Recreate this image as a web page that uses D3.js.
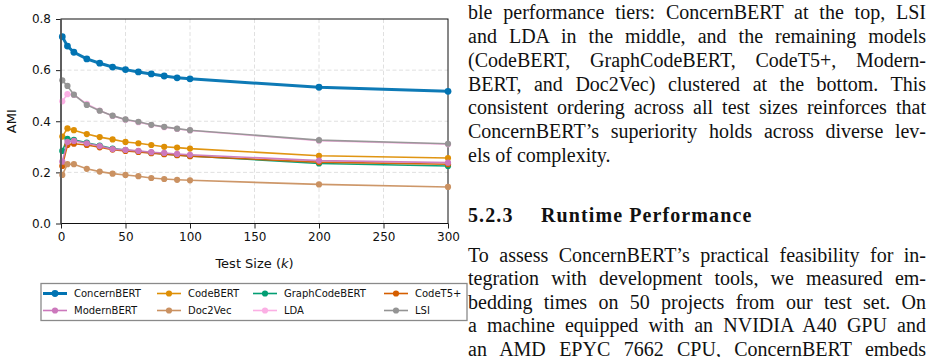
<!DOCTYPE html>
<html>
<head>
<meta charset="utf-8">
<script src="https://cdn.jsdelivr.net/npm/d3@7"></script>
<style>
  body { margin: 0; background: #fff; }
  #page { position: relative; width: 932px; height: 357px; overflow: hidden; }
  .line { position: absolute; left: 468px; width: 458px; font-family: "Liberation Serif", "DejaVu Serif", serif;
          color: #111; text-align: justify; text-align-last: justify; }
  .line.last { text-align-last: left; }
</style>
</head>
<body>
<div id="page"></div>
<script>
// Test sizes (k)
const testSizes = [1, 5, 10, 20, 30, 40, 50, 60, 70, 80, 90, 100, 200, 300];

// AMI per model
const concernBert   = [0.731, 0.694, 0.670, 0.644, 0.627, 0.612, 0.602, 0.593, 0.585, 0.577, 0.570, 0.566, 0.533, 0.517];
const codeBert      = [0.340, 0.372, 0.365, 0.350, 0.338, 0.329, 0.319, 0.314, 0.307, 0.300, 0.297, 0.293, 0.265, 0.256];
const graphCodeBert = [0.284, 0.331, 0.327, 0.316, 0.305, 0.293, 0.287, 0.282, 0.277, 0.272, 0.268, 0.264, 0.235, 0.225];
const codeT5        = [0.225, 0.307, 0.312, 0.307, 0.298, 0.289, 0.284, 0.280, 0.275, 0.271, 0.267, 0.263, 0.240, 0.232];
const modernBert    = [0.242, 0.319, 0.323, 0.314, 0.303, 0.291, 0.288, 0.284, 0.279, 0.276, 0.272, 0.269, 0.246, 0.238];
const doc2Vec       = [0.190, 0.232, 0.232, 0.214, 0.203, 0.195, 0.190, 0.185, 0.178, 0.174, 0.171, 0.169, 0.153, 0.143];
const lda           = [0.478, 0.506, 0.503, 0.468, 0.442, 0.421, 0.406, 0.396, 0.385, 0.377, 0.370, 0.364, 0.324, 0.310];
const lsi           = [0.560, 0.538, 0.504, 0.464, 0.441, 0.422, 0.407, 0.398, 0.386, 0.378, 0.371, 0.365, 0.326, 0.312];

const modelNames = ["ConcernBERT", "CodeBERT", "GraphCodeBERT", "CodeT5+", "ModernBERT", "Doc2Vec", "LDA", "LSI"];
const modelValues = [concernBert, codeBert, graphCodeBert, codeT5, modernBert, doc2Vec, lda, lsi];
const modelColors = ["#0173b2", "#de8f05", "#029e73", "#d55e00", "#cc78bc", "#ca9161", "#fbafe4", "#949494"];

const xTicks = [0, 50, 100, 150, 200, 250, 300];
const yTicks = [0.0, 0.2, 0.4, 0.6, 0.8];

// Paper text next to the figure
const paraOne = [
    "ble performance tiers: ConcernBERT at the top, LSI",
    "and LDA in the middle, and the remaining models",
    "(CodeBERT, GraphCodeBERT, CodeT5+, Modern-",
    "BERT, and Doc2Vec) clustered at the bottom. This",
    "consistent ordering across all test sizes reinforces that",
    "ConcernBERT\u2019s superiority holds across diverse lev-",
    "els of complexity."
];
const paraTwo = [
    "To assess ConcernBERT\u2019s practical feasibility for in-",
    "tegration with development tools, we measured em-",
    "bedding times on 50 projects from our test set. On",
    "a machine equipped with an NVIDIA A40 GPU and",
    "an AMD EPYC 7662 CPU, ConcernBERT embeds"
];

const page = d3.select("#page");

const svg = page.append("svg")
    .attr("width", 932)
    .attr("height", 357)
    .style("position", "absolute")
    .style("left", 0)
    .style("top", 0);

const plot = { left: 61, right: 448, top: 19, bottom: 223.5 };

const x = d3.scaleLinear().domain([0, 300]).range([plot.left, plot.right]);
const y = d3.scaleLinear().domain([0, 0.8]).range([plot.bottom, plot.top]);

// Grid
svg.append("g")
    .selectAll("line")
    .data(xTicks.slice(1, -1))
    .join("line")
    .attr("x1", d => x(d)).attr("x2", d => x(d))
    .attr("y1", plot.top).attr("y2", plot.bottom)
    .attr("stroke", "#dcdcdc").attr("stroke-width", 0.9)
    .attr("stroke-dasharray", "4,2.5");

svg.append("g")
    .selectAll("line")
    .data(yTicks.slice(1, -1))
    .join("line")
    .attr("x1", plot.left).attr("x2", plot.right)
    .attr("y1", d => y(d)).attr("y2", d => y(d))
    .attr("stroke", "#dcdcdc").attr("stroke-width", 0.9)
    .attr("stroke-dasharray", "4,2.5");

// Axes
const xAxis = svg.append("g")
    .attr("transform", `translate(0,${plot.bottom})`)
    .call(d3.axisBottom(x).tickValues(xTicks).tickFormat(d3.format("d")).tickSize(5).tickPadding(4));

const yAxis = svg.append("g")
    .attr("transform", `translate(${plot.left},0)`)
    .call(d3.axisLeft(y).tickValues(yTicks).tickFormat(d3.format(".1f")).tickSize(5).tickPadding(5));

[xAxis, yAxis].forEach(ax => {
    ax.select(".domain").remove();
    ax.selectAll("line").attr("stroke", "#222").attr("stroke-width", 1);
    ax.selectAll("text")
        .style("font-family", "DejaVu Sans, sans-serif")
        .style("font-size", "12px")
        .attr("fill", "#111");
});

// Frame
svg.append("rect")
    .attr("x", plot.left).attr("y", plot.top)
    .attr("width", plot.right - plot.left)
    .attr("height", plot.bottom - plot.top)
    .attr("fill", "none")
    .attr("stroke", "#111")
    .attr("stroke-width", 1);

// Lines
const line = d3.line()
    .x((d, i) => x(testSizes[i]))
    .y(d => y(d));

modelValues.forEach((vals, k) => {
    const g = svg.append("g");
    const main = k === 0;
    g.append("path")
        .attr("d", line(vals))
        .attr("fill", "none")
        .attr("stroke", modelColors[k])
        .attr("stroke-width", main ? 3 : 1.6)
        .attr("opacity", 0.95);
    g.selectAll("circle")
        .data(vals)
        .join("circle")
        .attr("cx", (d, i) => x(testSizes[i]))
        .attr("cy", d => y(d))
        .attr("r", main ? 3.4 : 3.1)
        .attr("fill", modelColors[k]);
});

// Left spine drawn over the markers, as in the original
svg.append("line")
    .attr("x1", plot.left).attr("x2", plot.left)
    .attr("y1", plot.top).attr("y2", plot.bottom)
    .attr("stroke", "#555").attr("stroke-width", 1.6);

// Axis labels
svg.append("text")
    .attr("transform", `translate(16,${(plot.top + plot.bottom) / 2}) rotate(-90)`)
    .attr("text-anchor", "middle")
    .style("font-family", "DejaVu Sans, sans-serif")
    .style("font-size", "13px")
    .attr("fill", "#111")
    .text("AMI");

const xLabel = svg.append("text")
    .attr("x", (plot.left + plot.right) / 2)
    .attr("y", 268)
    .attr("text-anchor", "middle")
    .style("font-family", "DejaVu Sans, sans-serif")
    .style("font-size", "13px")
    .attr("fill", "#111");
xLabel.append("tspan").text("Test Size (");
xLabel.append("tspan").style("font-style", "italic").text("k");
xLabel.append("tspan").text(")");

// Legend, 4 columns x 2 rows
const legend = svg.append("g");
legend.append("rect")
    .attr("x", 41).attr("y", 283.5)
    .attr("width", 426).attr("height", 37)
    .attr("fill", "#fff")
    .attr("stroke", "#8a8a8a")
    .attr("stroke-width", 1.3);

const colX = [43, 157, 253, 384];
const rowY = [293.5, 310.5];
modelNames.forEach((name, k) => {
    const col = k % 4, row = Math.floor(k / 4);
    const lx = colX[col], ly = rowY[row];
    legend.append("line")
        .attr("x1", lx).attr("x2", lx + 24)
        .attr("y1", ly).attr("y2", ly)
        .attr("stroke", modelColors[k])
        .attr("stroke-width", k === 0 ? 3 : 1.6);
    legend.append("circle")
        .attr("cx", lx + 12).attr("cy", ly)
        .attr("r", k === 0 ? 3.4 : 3.1)
        .attr("fill", modelColors[k]);
    legend.append("text")
        .attr("x", lx + 31).attr("y", ly + 3.6)
        .style("font-family", "DejaVu Sans, sans-serif")
        .style("font-size", "10px")
        .attr("fill", "#111")
        .text(name);
});

// Paper text column: pick a font size so the widest line just fits
const ctx = document.createElement("canvas").getContext("2d");
ctx.font = '20px "Liberation Serif"';
const widest = d3.max(paraOne.concat(paraTwo), t => ctx.measureText(t).width);
const fontSize = Math.min(20, 20 * 454 / widest);
const baseOff = fontSize * 0.8375;   // baseline inside a line-height:1 box

function addLine(text, baseline, cls) {
    return page.append("div")
        .attr("class", cls)
        .style("font-size", fontSize + "px")
        .style("line-height", fontSize + "px")
        .style("top", (baseline - baseOff) + "px")
        .text(text);
}

paraOne.forEach((t, i) => {
    addLine(t, 19 + i * 23.8, i === paraOne.length - 1 ? "line last" : "line");
});

const heading = addLine("", 222, "line last")
    .style("font-weight", "bold")
    .style("letter-spacing", "1.1px");
heading.append("span").style("display", "inline-block").style("width", "73px").text("5.2.3");
heading.append("span").text("Runtime Performance");

paraTwo.forEach((t, i) => {
    addLine(t, 261.5 + i * 23.5, "line");
});
</script>
</body>
</html>
